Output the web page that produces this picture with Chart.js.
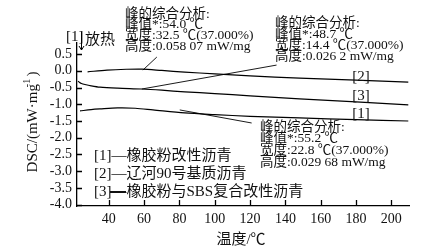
<!doctype html>
<html>
<head>
<meta charset="utf-8">
<title>DSC</title>
<script src="https://cdn.jsdelivr.net/npm/chart.js@4/dist/chart.umd.min.js"></script>
<style>
  html, body { margin: 0; padding: 0; background: #fff; }
  #holder { width: 425px; height: 251px; }
</style>
</head>
<body>
<div id="holder"><canvas id="chart-area"></canvas></div>
<script>
// tick labels
var xTicks = [40, 60, 80, 100, 120, 140, 160, 180, 200];
var yTicks = [0.5, 0.0, -0.5, -1.0, -1.5, -2.0, -2.5, -3.0, -3.5, -4.0];

// [1] 橡胶粉改性沥青 (bottom curve)
var t1 = [23.7, 30, 35, 45, 55, 65, 83, 100, 120, 148, 180, 209.6];
var v1 = [-1.20, -1.16, -1.14, -1.11, -1.12, -1.17, -1.26, -1.31, -1.36, -1.41, -1.46, -1.50];
// [2] 辽河90号基质沥青 (top curve)
var t2 = [28, 39, 50, 58.7, 70, 83, 100, 120, 148, 180, 209.6];
var v2 = [-0.03, 0.02, 0.045, 0.05, 0.01, -0.04, -0.09, -0.15, -0.22, -0.28, -0.34];
// [3] 橡胶粉与SBS复合改性沥青 (middle curve)
var t3 = [22.6, 23.5, 24.5, 26.5, 30, 35, 45, 58.7, 70, 83, 100, 120, 148, 180, 209.6];
var v3 = [-0.31, -0.35, -0.38, -0.41, -0.45, -0.49, -0.52, -0.545, -0.58, -0.63, -0.68, -0.75, -0.84, -0.93, -1.02];

var legendLabels = ['[1]—橡胶粉改性沥青', '[2]—辽河90号基质沥青', '[3]—橡胶粉与SBS复合改性沥青'];

var notes = [
  ['峰的综合分析:', '峰值*:54.0 ℃', '宽度:32.5 ℃(37.000%)', '高度:0.058 07 mW/mg'],
  ['峰的综合分析:', '峰值*:48.7 ℃', '宽度:14.4 ℃(37.000%)', '高度:0.026 2 mW/mg'],
  ['峰的综合分析:', '峰值*:55.2 ℃', '宽度:22.8 ℃(37.000%)', '高度:0.029 68 mW/mg']
];
// leader lines, in data units: [t0, v0, t1, v1]
var leaders = [
  [67.2, 0.41, 59.3, 0.02],
  [135, 0.17, 58.7, -0.545],
  [120.9, -1.56, 80.2, -1.17]
];

var FONT = "'Liberation Serif', 'Noto Sans CJK SC', serif";

function pts(t, v) {
  return t.map(function (x, i) { return { x: x, y: v[i] }; });
}

var extras = {
  id: 'extras',
  afterDraw: function (chart) {
    var c = chart.ctx, xs = chart.scales.x, ys = chart.scales.y, a = chart.chartArea;
    c.save();
    c.strokeStyle = '#000';
    c.lineWidth = 1.3;
    // inward ticks
    c.beginPath();
    xTicks.forEach(function (t) {
      var px = Math.round(xs.getPixelForValue(t)) + 0.5;
      c.moveTo(px, a.bottom); c.lineTo(px, a.bottom - 6);
    });
    yTicks.forEach(function (t) {
      var py = Math.round(ys.getPixelForValue(t)) + 0.5;
      c.moveTo(a.left, py); c.lineTo(a.left + 5, py);
    });
    c.stroke();

    // leader lines
    c.lineWidth = 0.9;
    c.beginPath();
    leaders.forEach(function (l) {
      c.moveTo(xs.getPixelForValue(l[0]), ys.getPixelForValue(l[1]));
      c.lineTo(xs.getPixelForValue(l[2]), ys.getPixelForValue(l[3]));
    });
    c.stroke();

    c.fillStyle = '#111';
    c.textBaseline = 'middle';
    c.textAlign = 'left';
    c.font = '13.5px ' + FONT;
    var spots = [[125, 14, 10.8], [275, 23, 11.2], [260, 127, 11.7]];
    notes.forEach(function (n, k) {
      n.forEach(function (s, i) {
        c.fillText(s, spots[k][0], spots[k][1] + i * spots[k][2]);
      });
    });

    // curve labels on right
    c.font = '15px ' + FONT;
    c.textAlign = 'center';
    c.fillText('[2]', 361, 77);
    c.fillText('[3]', 361, 96);
    c.fillText('[1]', 361, 114);

    // legend text
    c.textAlign = 'left';
    c.font = '15px ' + FONT;
    legendLabels.forEach(function (s, i) {
      c.fillText(s, 94, 156 + i * 18);
    });
    // thicker dash for [3]
    c.fillRect(110, 191, 16, 2);

    // exothermic marker
    c.font = '15px ' + FONT;
    c.fillText('[1]', 66, 37);
    c.fillText('放热', 85, 40);
    c.lineWidth = 1;
    c.beginPath();
    c.moveTo(81.5, 32); c.lineTo(81.5, 50);
    c.moveTo(79, 46); c.lineTo(81.5, 50); c.lineTo(84, 46);
    c.stroke();

    // axis titles
    c.font = '15px ' + FONT;
    c.textAlign = 'center';
    c.fillText('温度/℃', 241, 240);
    c.translate(33, 122);
    c.rotate(-Math.PI / 2);
    c.fillText('DSC/(mW·mg  )', 0, 0);
    c.font = '10px ' + FONT;
    c.fillText('-1', 39, -6);
    c.restore();
  }
};

var lineStyle = { borderColor: '#000', borderWidth: 1.2, pointRadius: 0, tension: 0.3, fill: false };

var config = {
  type: 'line',
  data: {
    datasets: [
      Object.assign({ label: '[1]', data: pts(t1, v1) }, lineStyle),
      Object.assign({ label: '[2]', data: pts(t2, v2) }, lineStyle),
      Object.assign({ label: '[3]', data: pts(t3, v3) }, lineStyle)
    ]
  },
  options: {
    responsive: false,
    animation: false,
    events: [],
    layout: { padding: { top: 43, right: 16, left: 0, bottom: 0 } },
    plugins: { legend: { display: false }, tooltip: { enabled: false } },
    scales: {
      x: {
        type: 'linear', min: 22, max: 210,
        afterBuildTicks: function (s) { s.ticks = xTicks.map(function (v) { return { value: v }; }); },
        afterFit: function (s) { s.height = 45; },
        grid: { drawOnChartArea: false, drawTicks: false },
        border: { display: true, color: '#000', width: 1.3 },
        ticks: { color: '#111', padding: 5, maxRotation: 0, autoSkip: false, font: { family: FONT, size: 14 } }
      },
      y: {
        type: 'linear', min: -4.04, max: 0.83,
        afterBuildTicks: function (s) { s.ticks = yTicks.map(function (v) { return { value: v }; }); },
        afterFit: function (s) { s.width = 77; },
        grid: { drawOnChartArea: false, drawTicks: false },
        border: { display: true, color: '#000', width: 1.3 },
        ticks: {
          color: '#111', padding: 5, autoSkip: false, font: { family: FONT, size: 14 },
          callback: function (v) { return v.toFixed(1); }
        }
      }
    }
  },
  plugins: [extras]
};

window.onload = function () {
  var el = document.getElementById('chart-area');
  el.width = 425; el.height = 251;
  window.myChart = new Chart(el.getContext('2d'), config);
};
</script>
</body>
</html>
